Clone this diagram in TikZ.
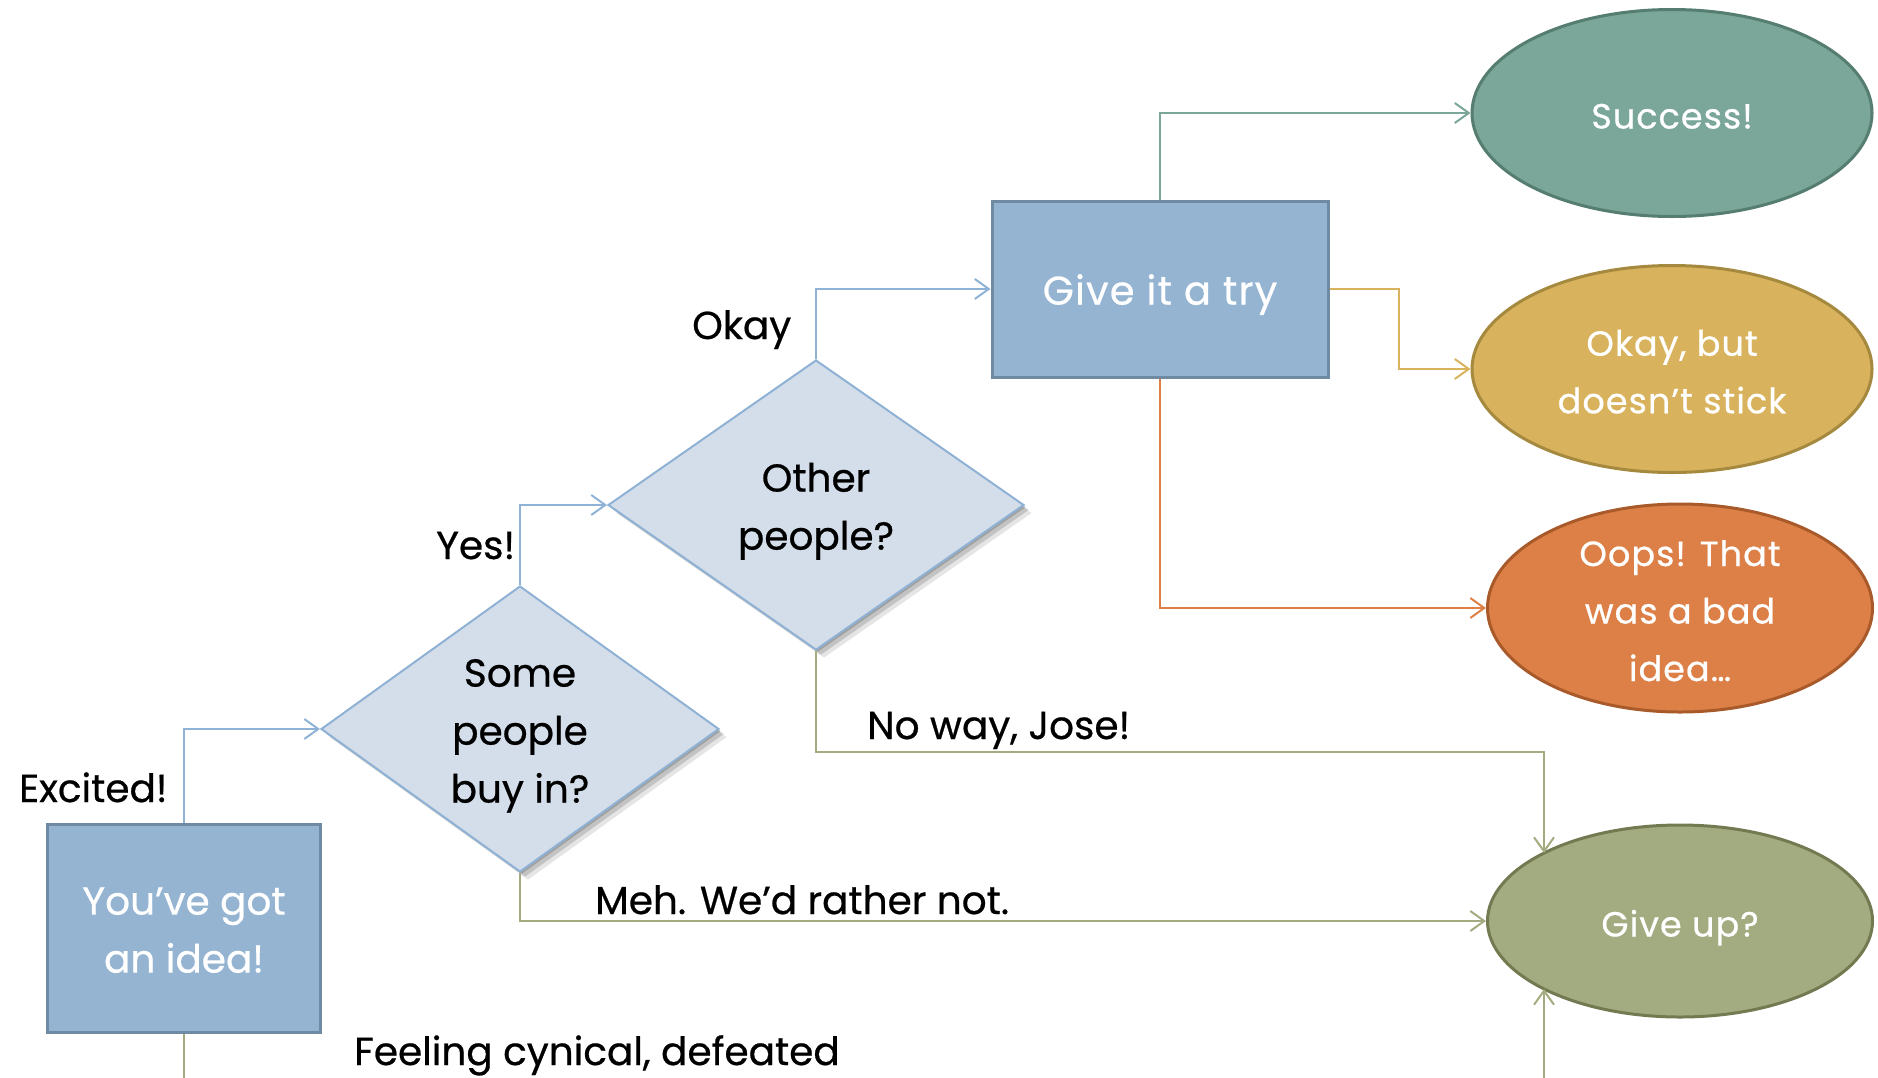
\documentclass[tikz,border=0pt]{standalone}
\usepackage{fontspec}
\setmainfont{Poppins}[FakeBold=0.6]
\newfontfamily\widefont{Poppins}[LetterSpace=3,FakeBold=0.6]
\usetikzlibrary{shapes.geometric,arrows.meta,shadows,calc}
\definecolor{rectfill}{HTML}{94B4D2}
\definecolor{rectline}{HTML}{6E8BA3}
\definecolor{diafill}{HTML}{D3DEEA}
\definecolor{dialine}{HTML}{8FB2D4}
\definecolor{blueln}{HTML}{8EB3D6}
\definecolor{sucfill}{HTML}{7BA69A}
\definecolor{sucline}{HTML}{557D70}
\definecolor{okfill}{HTML}{D8B25C}
\definecolor{okline}{HTML}{A5893E}
\definecolor{oopsfill}{HTML}{DD8047}
\definecolor{oopsline}{HTML}{A95A2A}
\definecolor{gufill}{HTML}{A3AB80}
\definecolor{guline}{HTML}{737A52}
\newcommand\ntx[2][4pt]{\raisebox{\dimexpr 0.5\depth-0.5\height-#1\relax}[0pt][0pt]{\begin{tabular}{@{}c@{}}#2\end{tabular}}}
\tikzset{
  boxnode/.style={draw=rectline, fill=rectfill, line width=3pt, text=white,
    inner sep=0pt, font=\fontsize{39}{58}\selectfont},
  dianode/.style={diamond, draw=dialine, fill=diafill, line width=2pt, text=black,
    inner sep=0pt, font=\fontsize{39}{58}\selectfont,
    drop shadow={shadow xshift=2pt, shadow yshift=-2pt, fill=black, opacity=0.18},
    drop shadow={shadow xshift=5pt, shadow yshift=-5pt, fill=black, opacity=0.15},
    drop shadow={shadow xshift=8pt, shadow yshift=-8pt, fill=black, opacity=0.10}},
  ellnode/.style={ellipse, line width=3pt, text=white, inner sep=0pt,
    font=\widefont\fontsize{35}{57.5}\selectfont},
  lbl/.style={inner sep=0pt, text=black, font=\fontsize{39}{44}\selectfont},
  conn/.style={line width=2pt, -{Straight Barb[length=14pt,width=20pt,line width=2pt]}},
}
\begin{document}
\begin{tikzpicture}[x=1pt,y=-1pt]
\useasboundingbox (0,0) rectangle (1878,1077);
\clip (0,0) rectangle (1878,1077);
% nodes
\node[boxnode, minimum width=273pt, minimum height=208pt] (A) at (184,928) {\ntx{You’ve got\\an idea!}};
\node[dianode, minimum width=398pt, minimum height=286pt] (B) at (520,729) {\ntx{Some\\people\\buy in?}};
\node[dianode, minimum width=416pt, minimum height=290pt] (C) at (816,505) {\ntx{Other\\people?}};
\node[boxnode, minimum width=336pt, minimum height=176pt, font=\widefont\fontsize{40}{58}\selectfont] (D) at (1160,289) {\ntx{Give it a try}};
\node[ellnode, draw=sucline, fill=sucfill, minimum width=400pt, minimum height=207pt] (E1) at (1672,113) {\ntx{Success!}};
\node[ellnode, draw=okline, fill=okfill, minimum width=400pt, minimum height=207pt] (E2) at (1672,369) {\ntx{Okay, but\\doesn’t stick}};
\node[ellnode, draw=oopsline, fill=oopsfill, minimum width=385pt, minimum height=208pt] (E3) at (1680,608) {\ntx{Oops! That\\was a bad\\idea…}};
\node[ellnode, draw=guline, fill=gufill, minimum width=385pt, minimum height=192pt] (E4) at (1680,921) {\ntx{Give up?}};
% helper coordinates
\coordinate (g1) at (1544,853);
\coordinate (g2) at (1544,989);
\coordinate (k1) at (1399,289);
% connectors
\draw[conn, blueln] (A.north) |- (B.west);
\draw[conn, blueln] (B.north) |- (C.west);
\draw[conn, blueln] (C.north) |- (D.west);
\draw[conn, sucfill] (D.north) |- (E1.west);
\draw[conn, okfill] (D.east) -- (k1) |- (E2.west);
\draw[conn, oopsfill] (D.south) |- (E3.west);
\draw[conn, gufill] (C.south) -- ++(0,101) -| (g1);
\draw[conn, gufill] (B.south) |- (E4.west);
\draw[conn, gufill] (A.south) -- ++(0,120) -| (g2);
% labels
\node[lbl, anchor=base west] (l1) at (19,802) {Excited!};
\node[lbl, anchor=base west] (l2) at (436,559) {Yes!};
\node[lbl, anchor=base west] (l3) at (692,339) {Okay};
\node[lbl, anchor=base west] (l4) at (867,739) {No way, Jose!};
\node[lbl, anchor=base west] (l5) at (595,914) {Meh. We’d rather not.};
\node[lbl, anchor=base west] (l6) at (354,1065) {Feeling cynical, defeated};
\end{tikzpicture}
\end{document}
